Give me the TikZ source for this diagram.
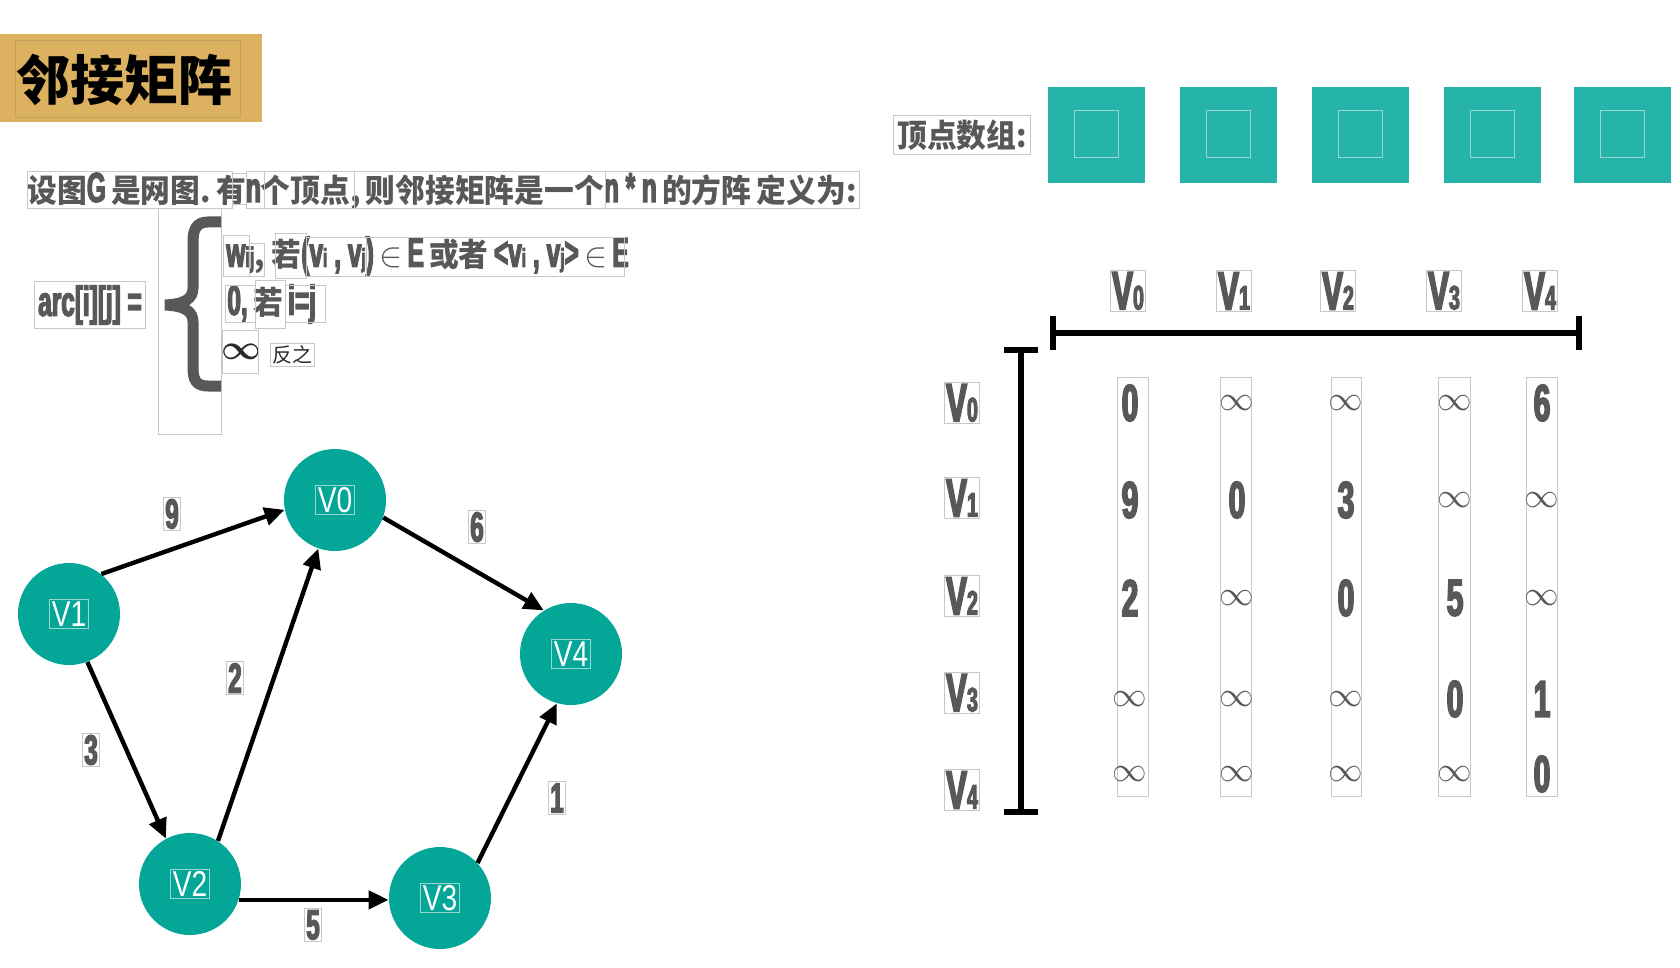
\documentclass[tikz,border=0pt]{standalone}
\usepackage{fontspec}
\setmainfont{Liberation Sans}
\newfontfamily\cjk{Noto Sans CJK SC}[FakeStretch=0.93]
\newfontfamily\cjktitle{Noto Sans CJK SC}
\newfontfamily\cf{Liberation Sans Bold}[FakeStretch=0.58, FakeBold=3]
\newfontfamily\nf{Liberation Sans}[FakeStretch=0.78]
\usetikzlibrary{arrows.meta}
\definecolor{tg}{RGB}{88,88,88}
\definecolor{bx}{RGB}{200,200,200}
\definecolor{gold}{RGB}{220,178,96}
\definecolor{goldline}{RGB}{196,160,96}
\definecolor{sq}{RGB}{38,180,170}
\definecolor{sqline}{RGB}{150,215,208}
\definecolor{nd}{RGB}{4,166,152}
\definecolor{ink}{RGB}{40,40,40}
\newcommand\cj[1]{{\cjk\bfseries #1}}
\newcommand\latn[2][21]{{\cf\fontsize{#1}{#1}\selectfont #2}}
\newcommand\bigsym{{\fontsize{17}{17}\selectfont\boldmath$\infty$}}
\begin{document}
\begin{tikzpicture}[x=0.5pt,y=-0.5pt,
  gbox/.style={draw=bx, line width=0.5pt},
  txt/.style={text=tg, inner sep=0pt, font=\fontsize{16}{18}\selectfont},
  vnode/.style={circle, fill=nd, minimum size=51pt, inner sep=0pt},
  vlab/.style={text=white, draw=sqline, line width=0.4pt, inner sep=1pt, font=\nf\fontsize{18}{18}\selectfont},
  elab/.style={text=tg, gbox, inner sep=1pt},
  arr/.style={-{Triangle[length=10pt,width=9pt]}, line width=2.2pt, black},
  sqbox/.style={fill=sq, minimum width=48.5pt, minimum height=48pt, inner sep=0pt},
  mnum/.style={text=tg, inner sep=0pt},
  bar/.style={line width=3pt, black}]
\useasboundingbox (0,0) rectangle (1680,968);

% ---------- title ----------
\fill[gold] (0,34) rectangle (262,122);
\draw[draw=goldline, line width=0.5pt] (15,41) rectangle (240,118);
\node[inner sep=0pt, font=\cjktitle\bfseries\fontsize{27}{27}\selectfont] (title) at (125,80) {邻接矩阵};

% ---------- definition ----------
\node[txt, anchor=west] (def) at (27,191)
  {\cj{设图}\latn{G}\,\cj{是网图.}\,\cj{有}\latn{n}\cj{个顶点,}\,\cj{则邻接矩阵是一个}\latn{n * n}\,\cj{的方阵}\,\cj{定义为:}};
\draw[gbox] (27,172) rectangle (232,209);
\draw[gbox] (232,174) rectangle (246,205);
\draw[gbox] (246,172) rectangle (264,209);
\draw[gbox] (264,172) rectangle (354,209);
\draw[gbox] (354,172) rectangle (605,209);
\draw[gbox] (605,172) rectangle (859,209);

\node[txt, gbox, inner sep=2pt] (arc) at (90,305) {\latn[21]{arc[i][j] =}};

% brace
\draw[gbox] (158,209) rectangle (221,434);
\draw[tg, line width=5.5pt] (221,222) -- (208,222) .. controls (196,222) and (193,230) .. (193,242) -- (193,288) .. controls (193,298) and (186,304) .. (165,305) .. controls (186,306) and (193,312) .. (193,322) -- (193,367) .. controls (193,380) and (196,386) .. (208,386) -- (221,386);

% cases
\node[txt, anchor=west] (c1) at (226,256)
  {\latn{w}\latn[14]{ij}\cj{, 若}\latn{(v}\latn[13]{i}\latn{\,,\,v}\latn[13]{j}\latn{)}\,$\in$\,\latn{E}\,\cj{或者}\,\latn{<v}\latn[13]{i}\latn{\,,\,v}\latn[13]{j}\latn{>}\,$\in$\,\latn{E}};
\draw[gbox] (223,236) rectangle (249,276);
\draw[gbox] (249,244) rectangle (264,276);
\draw[gbox] (275,234) rectangle (306,278);
\draw[gbox] (306,238) rectangle (366,276);
\draw[gbox] (366,238) rectangle (624,276);

\node[txt, anchor=west] (c2) at (227,304) {\latn{0,}\,\cj{若}\,\latn{i=j}};
\draw[gbox] (225,285) rectangle (255,322);
\draw[gbox] (255,280) rectangle (285,328);
\draw[gbox] (285,285) rectangle (325,322);

\node[inner sep=0pt, text=ink] (infsym) at (241,352) {\bigsym};
\draw[gbox] (222,330) rectangle (258,373);
\node[inner sep=1pt, text=ink, gbox, font=\cjktitle\fontsize{10}{10}\selectfont] (fanzhi) at (292,355) {反之};

% ---------- vertex array ----------
\node[txt, gbox, inner sep=2pt] (arrlab) at (962,135) {\cj{顶点数组:}};
\foreach \i/\x in {0/1096,1/1228,2/1360,3/1492,4/1622}{
  \node[sqbox] (s\i) at (\x,135) {};
  \draw[draw=sqline, line width=0.5pt] (\x-22,111) rectangle (\x+22,158);
}

% ---------- matrix ----------
\foreach \i/\x in {0/1128,1/1234,2/1338,3/1444,4/1540}{
  \node[mnum, gbox, inner sep=1pt] (h\i) at (\x,291) {\latn[27]{V}\latn[17]{\i}};
}
\draw[bar] (1053,333) -- (1579,333);
\draw[bar] (1053,316) -- (1053,350);
\draw[bar] (1579,316) -- (1579,350);
\draw[bar] (1021,350) -- (1021,812);
\draw[bar] (1004,350) -- (1038,350);
\draw[bar] (1004,812) -- (1038,812);

\foreach \i/\y in {0/403,1/498,2/596,3/693,4/790}{
  \node[mnum, gbox, inner sep=1pt] (r\i) at (962,\y) {\latn[27]{V}\latn[17]{\i}};
}

\foreach \l/\r in {1117/1148, 1220/1251, 1331/1361, 1438/1470, 1526/1557}{
  \draw[gbox] (\l,377) rectangle (\r,796);
}
\newcommand\NN[1]{\latn[26]{#1}}
\newcommand\II{{\fontsize{16}{16}\selectfont$\infty$}}
\foreach \r/\y/\a/\b/\c/\d/\e in {
  0/403/\NN{0}/\II/\II/\II/\NN{6},
  1/500/\NN{9}/\NN{0}/\NN{3}/\II/\II,
  2/598/\NN{2}/\II/\NN{0}/\NN{5}/\II,
  3/699/\II/\II/\II/\NN{0}/\NN{1},
  4/774/\II/\II/\II/\II/\NN{0}}{
  \node[mnum] (m\r a) at (1130,\y) {\a};
  \node[mnum] (m\r b) at (1237,\y) {\b};
  \node[mnum] (m\r c) at (1346,\y) {\c};
  \node[mnum] (m\r d) at (1455,\y) {\d};
  \node[mnum] (m\r e) at (1542,\y) {\e};
}

% ---------- graph ----------
\node[vnode] (v0) at (335,500) {};
\node[vnode] (v1) at (69,614) {};
\node[vnode] (v2) at (190,884) {};
\node[vnode] (v3) at (440,898) {};
\node[vnode] (v4) at (571,654) {};
\node[vlab] (l0) at (v0) {V0};
\node[vlab] (l1) at (v1) {V1};
\node[vlab] (l2) at (v2) {V2};
\node[vlab] (l3) at (v3) {V3};
\node[vlab] (l4) at (v4) {V4};

\draw[arr] (v1.51) -- (v0.191);
\draw[arr] (v0.-20) -- (v4.122);
\draw[arr] (v1.-69) -- (v2.118);
\draw[arr] (v2.57) -- (v0.251);
\draw[arr] (v3.43) -- (v4.254);
\coordinate (e5) at (v2.-18 -| v3.west);
\draw[arr] (v2.-18) -- (e5);

\node[elab] (w9) at (172,514) {\latn{9}};
\node[elab] (w6) at (477,527) {\latn{6}};
\node[elab] (w2) at (235,678) {\latn{2}};
\node[elab] (w3) at (91,750) {\latn{3}};
\node[elab] (w5) at (313,925) {\latn{5}};
\node[elab] (w1) at (557,798) {\latn{1}};
\end{tikzpicture}
\end{document}
